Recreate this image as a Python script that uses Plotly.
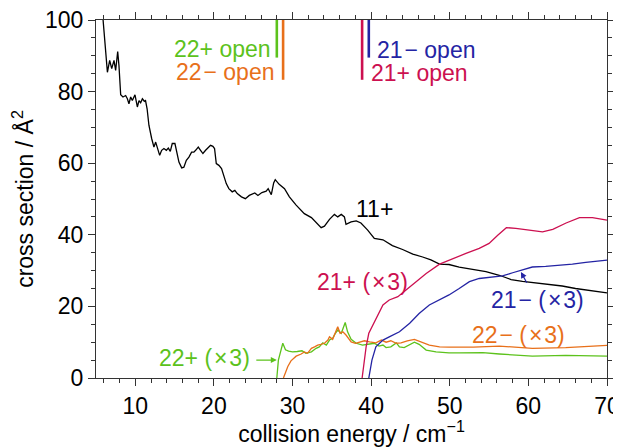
import plotly.graph_objects as go

# collision energy (cm^-1) and cross sections (Å^2)
e_11 = [5.9, 6.15, 6.45, 6.74, 7.0, 7.29, 7.5, 7.76, 7.92, 8.14, 8.43, 8.77, 8.99, 9.19, 9.41,
        9.62, 9.96, 10.26, 10.47, 10.68, 10.9, 11.15, 11.3, 11.5, 11.73, 12.08, 12.37, 12.59,
        12.8, 13.1, 13.35, 13.64, 13.95, 14.2, 14.45, 14.7, 15.04, 15.34, 15.55, 15.9, 16.18,
        16.49, 16.82, 17.16, 17.45, 17.67, 18.01, 18.3, 18.6, 18.94, 19.28, 19.57, 19.87,
        20.08, 20.3, 20.63, 20.97, 21.26, 21.57, 21.9, 22.33, 22.66, 22.97, 23.5, 24.0, 24.5,
        25.2, 25.6, 26.1, 26.65, 26.9, 27.3, 27.6, 27.8, 28.3, 28.98, 29.6, 30.46, 31.5, 32.4,
        33.0, 33.64, 34.06, 34.7, 35.33, 35.75, 36.2, 36.6, 36.8, 37.45, 38.1, 38.7, 39.56,
        40.4, 41.5, 41.9, 42.7, 44.0, 45.3, 46.55, 47.6, 48.7, 49.9, 51.2, 52.9, 54.6, 56.3,
        57.8, 59.25, 60.95, 62.65, 64.3, 66.0, 68.15, 70.0]
cs_11 = [100, 92, 85.4, 88.7, 86.4, 88.7, 85.9, 91.2, 87.3, 79.1, 78.5, 78.9, 78.0, 76.6, 78.5,
         77.5, 79.1, 75.7, 77.5, 76.9, 78.0, 77.3, 77.5, 75.2, 70.6, 66.9, 64.5, 65.9, 64.1,
         62.2, 63.6, 64.1, 63.6, 64.2, 63.3, 65.5, 65.5, 62.2, 60.3, 58.7, 58.9, 60.8, 61.7,
         63.1, 63.1, 63.6, 64.5, 63.6, 62.7, 63.6, 64.5, 65.0, 64.7, 64.1, 59.9, 59.4, 58.5,
         56.6, 54.3, 52.9, 52.0, 52.4, 51.5, 50.6, 50.1, 51.0, 51.7, 51.0, 51.8, 52.2, 52.9,
         51.2, 54.5, 55.4, 54.1, 52.9, 50.6, 48.3, 45.9, 44.8, 43.3, 42.0, 42.4, 44.3, 45.7,
         45.0, 45.7, 45.0, 42.9, 43.6, 43.9, 43.3, 41.3, 39.0, 38.6, 38.0, 37.0, 35.9, 34.6,
         33.8, 33.0, 31.8, 31.7, 31.0, 30.3, 29.7, 28.7, 27.5, 27.0, 26.6, 26.2, 25.7, 25.0,
         24.4, 23.8]

e_22p = [28.0, 28.2, 28.76, 29.1, 29.5, 30.0, 30.6, 31.2, 31.7, 32.4, 33.0, 33.4, 33.85, 34.3,
         34.7, 35.1, 35.45, 35.75, 36.2, 36.4, 36.7, 37.0, 37.45, 38.1, 38.9, 39.8, 40.4, 41.0,
         41.5, 41.9, 42.5, 43.2, 43.6, 44.2, 44.9, 45.5, 46.1, 47.0, 48.25, 49.9, 51.2, 54.2,
         56.3, 58.4, 60.5, 64.75, 70.0]
cs_22p = [0, 5.0, 9.7, 7.9, 7.5, 7.3, 7.4, 7.6, 6.9, 7.3, 8.3, 8.7, 9.8, 9.2, 10.6, 11.1, 12.5,
          13.4, 12.5, 13.9, 15.5, 12.9, 10.8, 9.7, 9.2, 9.5, 9.7, 8.9, 9.2, 8.5, 8.7, 9.8, 8.7,
          8.5, 9.2, 10.0, 9.4, 7.8, 7.3, 7.0, 7.0, 7.1, 6.7, 6.4, 6.1, 6.3, 6.1]

e_22m = [28.84, 29.4, 29.8, 30.46, 31.1, 31.5, 31.9, 32.4, 32.8, 33.2, 33.6, 34.06, 34.5, 34.7,
         35.1, 35.45, 35.75, 36.05, 36.4, 36.8, 37.45, 38.0, 38.5, 39.15, 39.8, 40.6, 41.3,
         41.9, 42.5, 43.2, 43.8, 44.6, 45.5, 46.35, 47.4, 48.7, 49.9, 53.0, 56.3, 60.5, 64.75,
         70.0]
cs_22m = [0, 3.2, 4.8, 6.1, 6.7, 7.3, 6.9, 8.3, 8.7, 9.2, 9.4, 9.7, 10.6, 11.5, 10.8, 12.5,
          14.3, 12.5, 12.9, 12.0, 10.1, 9.7, 10.1, 10.4, 10.1, 9.8, 10.6, 10.0, 10.4, 9.7, 9.8,
          10.4, 10.8, 10.1, 9.2, 8.7, 8.6, 8.6, 8.9, 8.3, 8.5, 9.1]

e_21p = [38.85, 39.36, 39.7, 40.2, 40.8, 41.5, 42.3, 43.4, 44.4, 45.7, 47.0, 48.7, 50.4, 52.06,
         53.75, 55.0, 56.1, 57.2, 58.4, 60.1, 61.8, 63.1, 64.8, 66.5, 68.15, 70.0]
cs_21p = [0, 8.7, 12.5, 14.8, 17.6, 20.4, 21.8, 22.7, 24.5, 26.9, 29.2, 31.8, 33.4, 34.8, 36.2,
          37.6, 39.9, 42.0, 41.8, 41.3, 40.8, 41.5, 43.3, 44.8, 44.8, 44.1]

e_21m = [39.7, 40.1, 40.6, 41.5, 42.3, 43.6, 44.9, 46.1, 47.4, 48.7, 49.9, 51.2, 52.5, 53.75,
         55.4, 56.7, 58.0, 59.25, 60.5, 62.2, 63.9, 65.6, 67.3, 68.8, 70.0]
cs_21m = [0, 5.0, 8.7, 10.6, 11.5, 12.9, 15.3, 18.0, 20.4, 21.8, 23.2, 25.0, 26.9, 27.8, 28.1,
          28.5, 29.4, 30.1, 31.0, 31.2, 31.4, 31.8, 32.3, 32.7, 32.9]

# channel opening thresholds
open_names = ["22+", "22−", "21+", "21−"]
open_e = [28.0, 28.8, 38.85, 39.7]
open_bottom = [89.5, 83.3, 83.3, 89.5]

GREEN = "#5cc21c"
ORANGE = "#e8701a"
RED = "#cc1050"
BLUE = "#2424a4"
open_colors = [GREEN, ORANGE, RED, BLUE]

FONT = "Liberation Sans, Arial, sans-serif"
FS = 23
HS = "\u200a"  # hair space, the original spaces its signs a bit wider

fig = go.Figure()

fig.add_trace(go.Scatter(x=e_11, y=cs_11, mode="lines", line=dict(color="black", width=1.3)))
fig.add_trace(go.Scatter(x=e_22p, y=cs_22p, mode="lines", line=dict(color=GREEN, width=1.3)))
fig.add_trace(go.Scatter(x=e_22m, y=cs_22m, mode="lines", line=dict(color=ORANGE, width=1.3)))
fig.add_trace(go.Scatter(x=e_21p, y=cs_21p, mode="lines", line=dict(color=RED, width=1.3)))
fig.add_trace(go.Scatter(x=e_21m, y=cs_21m, mode="lines", line=dict(color=BLUE, width=1.3)))

for e, b, c in zip(open_e, open_bottom, open_colors):
    fig.add_trace(go.Scatter(x=[e, e], y=[100, b], mode="lines",
                             line=dict(color=c, width=2.6)))

times3 = "(" + HS + "×" + HS + "3)"
labels = [
    ("22+ open", 27.4, 91.9, "right", GREEN),
    ("22" + HS + "− open", 27.9, 85.5, "right", ORANGE),
    ("21" + HS + "− open", 40.6, 91.7, "left", BLUE),
    ("21+ open", 39.8, 85.2, "left", RED),
    ("11+", 40.4, 47.3, "center", "black"),
    ("21+ " + times3, 38.9, 26.9, "center", RED),
    ("21" + HS + "− " + times3, 61.1, 21.8, "center", BLUE),
    ("22" + HS + "− " + times3, 58.7, 12.0, "center", ORANGE),
    ("22+ " + times3, 18.8, 5.5, "center", GREEN),
]
for txt, x, y, anchor, col in labels:
    fig.add_annotation(x=x, y=y, text=txt, showarrow=False, xanchor=anchor, borderpad=0,
                       font=dict(size=FS, color=col, family=FONT))

# arrows
fig.add_annotation(x=28.0, y=5.0, ax=25.2, ay=5.0, axref="x", ayref="y", text="",
                   showarrow=True, arrowhead=2, arrowsize=1, arrowwidth=1.2, arrowcolor=GREEN)
fig.add_annotation(x=59.05, y=29.6, ax=59.9, ay=26.2, axref="x", ayref="y", text="",
                   showarrow=True, arrowhead=2, arrowsize=1, arrowwidth=1.2, arrowcolor=BLUE)

axis_common = dict(
    showline=True, linecolor="#333", linewidth=1.3, mirror="ticks",
    ticks="outside", ticklen=7, tickwidth=1.2, tickcolor="#333",
    showgrid=False, zeroline=False, automargin=False, ticklabeloverflow="allow",
    tickfont=dict(size=FS, family=FONT, color="black"),
)

fig.update_xaxes(range=[5, 70], dtick=10, tick0=0,
                 minor=dict(dtick=2, ticks="outside", ticklen=4, tickcolor="#333"),
                 title=dict(text="collision energy / cm<sup>−1</sup>", standoff=11,
                            font=dict(size=FS, family=FONT, color="black")),
                 **axis_common)
fig.update_yaxes(range=[0, 100], dtick=20,
                 minor=dict(dtick=5, ticks="outside", ticklen=4, tickcolor="#333"),
                 title=dict(text="cross section / Å<sup>2</sup>", standoff=16,
                            font=dict(size=FS, family=FONT, color="black")),
                 **axis_common)

# the page body adds an 8px offset, so the figure is sized to fit the window
fig.update_layout(
    width=613, height=439,
    margin=dict(l=88, r=14, t=12, b=69),
    plot_bgcolor="white", paper_bgcolor="white",
    showlegend=False,
    font=dict(family=FONT),
)

fig.write_html("out.html")
